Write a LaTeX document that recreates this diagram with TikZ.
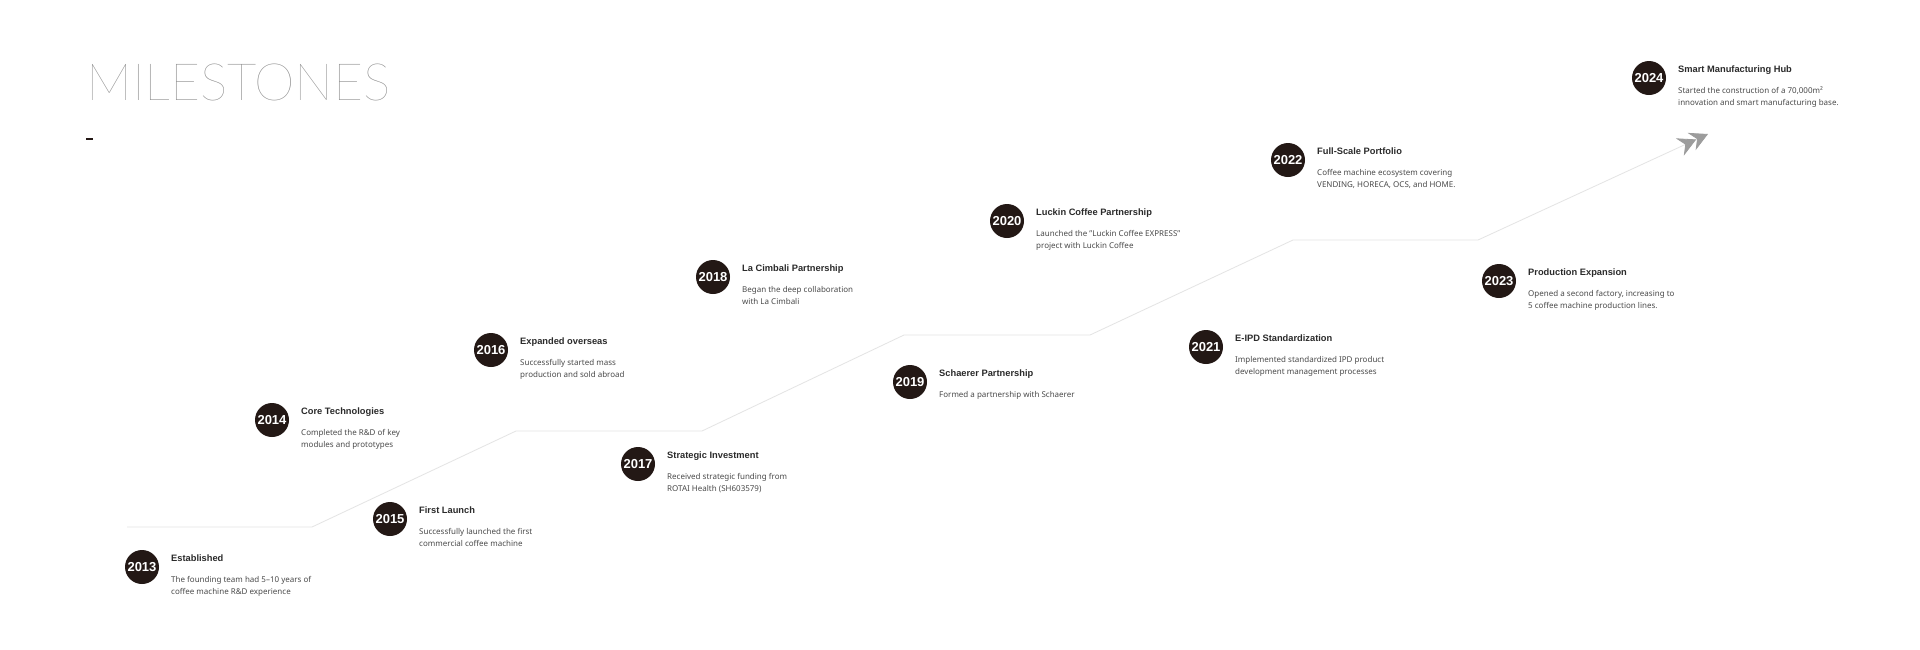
\documentclass[tikz,border=0pt]{standalone}
\usepackage{fontspec}
\setmainfont{Noto Sans}
\newfontfamily\headfont{Liberation Sans}
\IfFontExistsTF{Lato Hairline}{\newfontfamily\titlefont{Lato Hairline}\def\titlegray{888888}}{%
  \IfFontExistsTF{Lato Light}{\newfontfamily\titlefont{Lato Light}\def\titlegray{A0A0A0}}{%
    \newfontfamily\titlefont{Lato}\def\titlegray{B8B8B8}}}
\usetikzlibrary{arrows.meta,calc}
\definecolor{dotc}{HTML}{231815}
\definecolor{headc}{HTML}{2A2A2A}
\definecolor{bodyc}{HTML}{4A4A4A}
\definecolor{linec}{HTML}{E4E4E4}
\definecolor{arrowc}{HTML}{9C9C9C}
\definecolor{bigc}{HTML}{\titlegray}
\newcommand\mstone[6]{%
  \node[yearc] (c#1) at (#2,#3) {#1};
  \node[mtitle] (t#1) at ([shift={(29,-5.5)}]c#1.center) {#4};
  \node[mbody] (d#1a) at ([shift={(29,15)}]c#1.center) {#5};
  \if\relax\detokenize{#6}\relax\else
  \node[mbody] (d#1b) at ([shift={(29,27)}]c#1.center) {#6};
  \fi
}
\begin{document}
\begin{tikzpicture}[x=1pt,y=-1pt,
  yearc/.style={circle, fill=dotc, minimum size=34pt, inner sep=0pt, text=white,
    font=\headfont\fontsize{13}{14}\selectfont\bfseries},
  mtitle/.style={anchor=base west, inner sep=0pt, text=headc,
    font=\headfont\fontsize{9.3}{10}\selectfont\bfseries},
  mbody/.style={anchor=base west, inner sep=0pt, text=bodyc,
    font=\fontsize{8}{9}\selectfont},
  tline/.style={draw=linec, line width=0.8pt},
  bigtitle/.style={anchor=base west, inner sep=0pt, text=bigc,
    font=\titlefont\fontsize{51.5}{56}\selectfont},
  chevarrow/.style={-{Stealth[length=18pt,width=19pt,inset=6pt,sep=-5pt,color=arrowc,fill=arrowc]
                      Stealth[length=18pt,width=19pt,inset=6pt,color=arrowc,fill=arrowc]}}
]
\useasboundingbox[fill=white] (0,0) rectangle (1920,649);

\node[bigtitle] (title) at (86,100) {MILESTONES};
\draw[line width=2pt, draw=dotc] (86,139) -- (93,139);

\coordinate (p0) at (127,527);
\coordinate (p1) at (312,527);
\coordinate (p2) at (516,431);
\coordinate (p3) at (702,431);
\coordinate (p4) at (904,335);
\coordinate (p5) at (1090,335);
\coordinate (p6) at (1293,240);
\coordinate (p7) at (1478,240);
\coordinate (p8) at (1708,134);
\draw[tline, chevarrow]
  (p0) -- (p1) -- (p2) -- (p3) -- (p4) -- (p5) -- (p6) -- (p7) -- (p8);

\mstone{2013}{142}{567}{Established}{The founding team had 5–10 years of}{coffee machine R\&D experience}
\mstone{2014}{272}{420}{Core Technologies}{Completed the R\&D of key}{modules and prototypes}
\mstone{2015}{390}{519}{First Launch}{Successfully launched the first}{commercial coffee machine}
\mstone{2016}{491}{350}{Expanded overseas}{Successfully started mass}{production and sold abroad}
\mstone{2017}{638}{464}{Strategic Investment}{Received strategic funding from}{ROTAI Health (SH603579)}
\mstone{2018}{713}{277}{La Cimbali Partnership}{Began the deep collaboration}{with La Cimbali}
\mstone{2019}{910}{382}{Schaerer Partnership}{Formed a partnership with Schaerer}{}
\mstone{2020}{1007}{221}{Luckin Coffee Partnership}{Launched the "Luckin Coffee EXPRESS"}{project with Luckin Coffee}
\mstone{2021}{1206}{347}{E-IPD Standardization}{Implemented standardized IPD product}{development management processes}
\mstone{2022}{1288}{160}{Full-Scale Portfolio}{Coffee machine ecosystem covering}{VENDING, HORECA, OCS, and HOME.}
\mstone{2023}{1499}{281}{Production Expansion}{Opened a second factory, increasing to}{5 coffee machine production lines.}
\mstone{2024}{1649}{78}{Smart Manufacturing Hub}{Started the construction of a 70,000m²}{innovation and smart manufacturing base.}
\end{tikzpicture}
\end{document}
